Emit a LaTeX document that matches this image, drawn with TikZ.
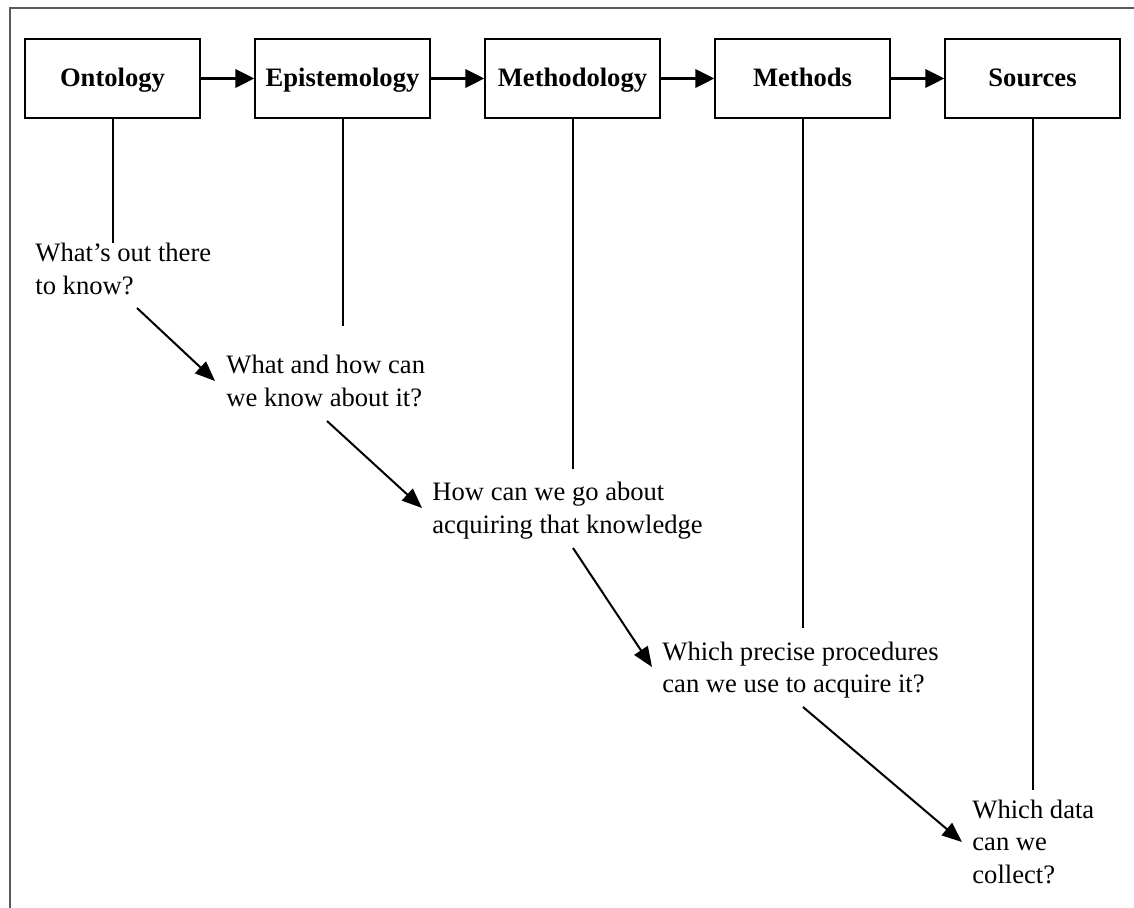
\documentclass[tikz,border=0pt]{standalone}
\usepackage{fontspec}
\setmainfont{Liberation Serif}
\usetikzlibrary{arrows.meta}
\definecolor{framegray}{HTML}{5A5A5A}
\begin{document}
\begin{tikzpicture}[x=0.5pt, y=-0.5pt,
  every node/.style={font=\fontsize{13.3pt}{16.25pt}\selectfont},
  stagebox/.style={draw=black, line width=0.6pt, minimum width=87.5pt,
    minimum height=39.5pt, inner sep=0pt, text height=9.3pt, text depth=0.8pt,
    font=\fontsize{13.3pt}{16.25pt}\selectfont\bfseries},
  question/.style={anchor=base west, inner sep=0pt},
  flow/.style={line width=1.7pt, -{Triangle[length=9.5pt, width=9pt]}},
  drop/.style={line width=1pt},
  lead/.style={line width=1pt, -{Triangle[length=10pt, width=8pt]}}]
\useasboundingbox (0,0) rectangle (1134,908);

% outer frame (open at right and bottom)
\draw[framegray, line width=1pt] (9.5,908) -- (9.5,8.5) -- (1134,8.5);

% stages
\node[stagebox] (ont)  at (112.5,78.5)  {Ontology};
\node[stagebox] (epi)  at (342.5,78.5)  {Epistemology};
\node[stagebox] (meth) at (572.5,78.5)  {Methodology};
\node[stagebox] (mtd)  at (802.5,78.5)  {Methods};
\node[stagebox] (src)  at (1032.5,78.5) {Sources};

\draw[flow] (ont.east)  -- (epi.west);
\draw[flow] (epi.east)  -- (meth.west);
\draw[flow] (meth.east) -- (mtd.west);
\draw[flow] (mtd.east)  -- (src.west);

% questions
\node[question] (q1) at (35,262)  {\begin{tabular}[t]{@{}l@{}}What’s out there\\to know?\end{tabular}};
\node[question] (q2) at (226,374) {\begin{tabular}[t]{@{}l@{}}What and how can\\we know about it?\end{tabular}};
\node[question] (q3) at (432,501) {\begin{tabular}[t]{@{}l@{}}How can we go about\\acquiring that knowledge\end{tabular}};
\node[question] (q4) at (662,660) {\begin{tabular}[t]{@{}l@{}}Which precise procedures\\can we use to acquire it?\end{tabular}};
\node[question] (q5) at (972,818) {\begin{tabular}[t]{@{}l@{}}Which data\\can we\\collect?\end{tabular}};

% drop lines from each stage
\coordinate (d1) at (112.5,243);
\coordinate (d2) at (342.5,326);
\coordinate (d3) at (572.5,469);
\coordinate (d4) at (802.5,628);
\coordinate (d5) at (1032.5,790);
\draw[drop] (ont.south)  -- (d1);
\draw[drop] (epi.south)  -- (d2);
\draw[drop] (meth.south) -- (d3);
\draw[drop] (mtd.south)  -- (d4);
\draw[drop] (src.south)  -- (d5);

% arrows leading from one question to the next
\coordinate (a1s) at (137,308);  \coordinate (a1e) at (215,381);
\coordinate (a2s) at (327,421);  \coordinate (a2e) at (422,508);
\coordinate (a3s) at (573,548);  \coordinate (a3e) at (652,667);
\coordinate (a4s) at (803,707);  \coordinate (a4e) at (962,842);
\draw[lead] (a1s) -- (a1e);
\draw[lead] (a2s) -- (a2e);
\draw[lead] (a3s) -- (a3e);
\draw[lead] (a4s) -- (a4e);
\end{tikzpicture}
\end{document}
